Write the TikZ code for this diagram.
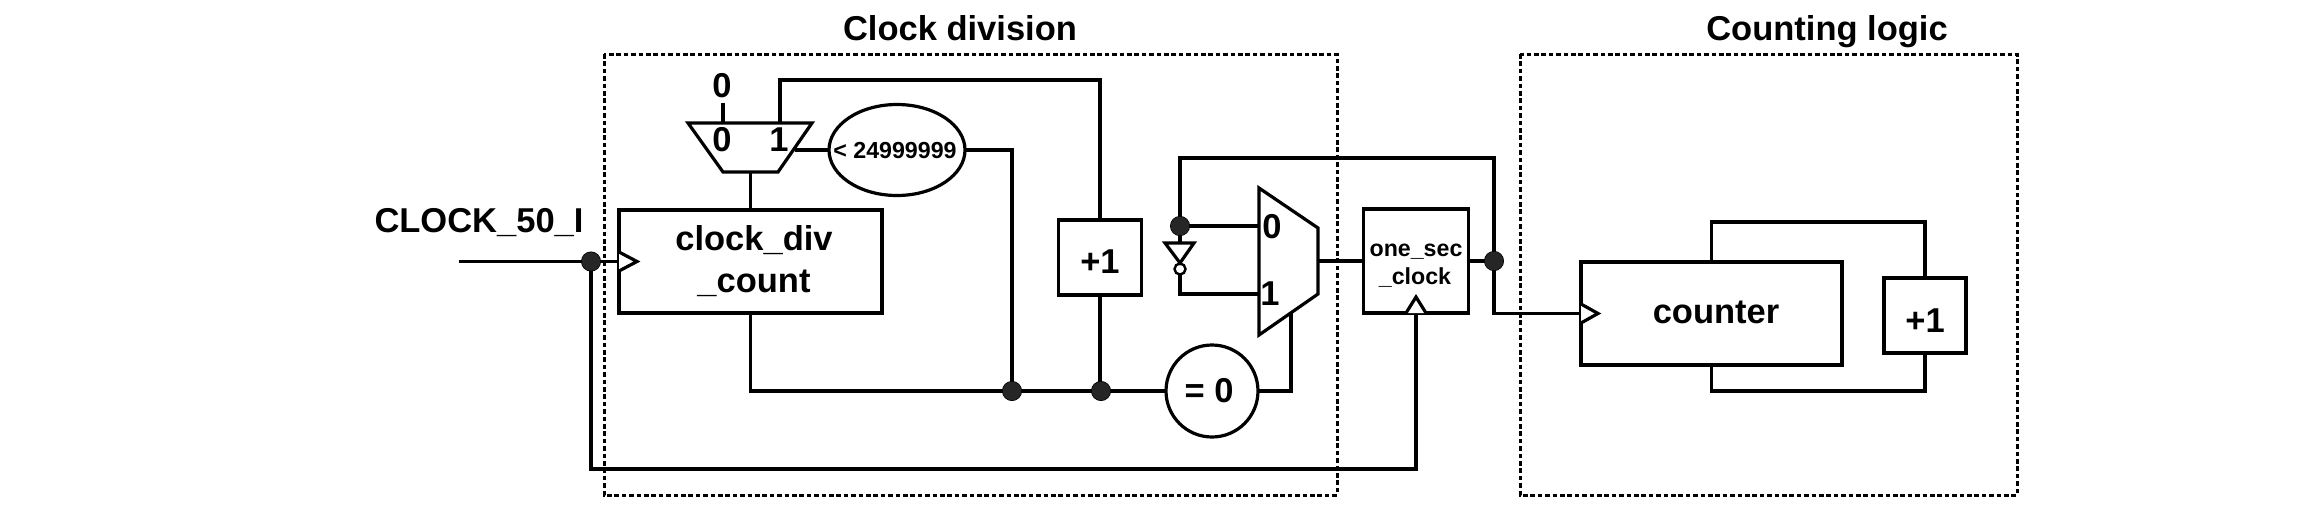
\documentclass[tikz,border=0pt]{standalone}
\usepackage{fontspec}
\setmainfont{Liberation Sans}
\usetikzlibrary{shapes.geometric}
\tikzset{
  wire/.style={line width=1.6pt,line join=miter,line cap=butt},
  boxnode/.style={draw,line width=1.6pt,rectangle,inner sep=0pt,outer sep=0pt},
  dotnode/.style={draw=black,fill=black!85,circle,line width=0.5pt,minimum size=9.5pt,inner sep=0pt,outer sep=0pt},
  shapeline/.style={line width=1.6pt,line join=miter,fill=white},
  groupbox/.style={line width=1.5pt,dash pattern=on 2.3pt off 1.4pt},
  lblbig/.style={font=\bfseries\fontsize{17.25pt}{20pt}\selectfont,anchor=base,inner sep=0pt,outer sep=0pt},
  lblsmall/.style={font=\bfseries\fontsize{11.6pt}{14pt}\selectfont,anchor=base,inner sep=0pt,outer sep=0pt},
}
\begin{document}
\begin{tikzpicture}[x=0.5pt,y=-0.5pt]
\useasboundingbox (0,0) rectangle (2324,520);
\fill[white] (0,0) rectangle (2324,520);

% group boxes
\draw[groupbox] (604,54) rectangle (1337,495);
\draw[groupbox] (1520,54) rectangle (2017,495);

% named points
\coordinate (clkin) at (459,261.5);
\coordinate (zerotop) at (723,103);
\coordinate (topmuxA) at (723,123);
\coordinate (topmuxB) at (780,123);
\coordinate (topmuxO) at (795,150);
\coordinate (topmuxS) at (750.5,172);
\coordinate (mainI0) at (1259,226);
\coordinate (mainI1) at (1259,294);
\coordinate (mainO) at (1318,261);
\coordinate (mainS) at (1291,313);
\coordinate (invtop) at (1180,243);
\coordinate (fbcornerA) at (1494,158);
\coordinate (fbcornerB) at (1180,158);
\coordinate (ctop) at (1100,80);
\coordinate (clkturn) at (1416,469);
\coordinate (loopR) at (1925,222);
\coordinate (loopRb) at (1925,391);

% boxes and round shapes
\node[boxnode,minimum width=131.5pt,minimum height=51.5pt] (clkdiv) at (750.5,261.5) {};
\node[boxnode,minimum width=41.5pt,minimum height=37.5pt] (addA) at (1100,257.5) {};
\node[boxnode,minimum width=52.5pt,minimum height=52pt] (onesec) at (1416,261) {};
\node[boxnode,minimum width=130.5pt,minimum height=51.5pt] (counter) at (1711.5,313.5) {};
\node[boxnode,minimum width=41pt,minimum height=37.5pt] (addB) at (1925,315.5) {};
\node[draw,ellipse,line width=1.6pt,minimum width=68pt,minimum height=45.5pt,inner sep=0pt,outer sep=0pt] (cmp) at (897,150) {};
\node[draw,circle,line width=1.6pt,minimum size=46pt,inner sep=0pt,outer sep=0pt] (eqz) at (1212,391) {};
\node[draw,circle,line width=1.2pt,fill=white,minimum size=5.5pt,inner sep=0pt,outer sep=0pt] (bubble) at (1180,269) {};

% junctions
\node[dotnode] (jclk) at (591,261.5) {};
\node[dotnode] (jcmp) at (1012,391) {};
\node[dotnode] (jadd) at (1101,391) {};
\node[dotnode] (jinv) at (1180,226) {};
\node[dotnode] (jout) at (1494,261) {};

% connectors
\draw[wire] (clkin) -- (clkdiv.west);
\draw[wire] (jclk.center) |- (clkturn) -- (onesec.south);
\draw[wire] (zerotop) -- (topmuxA);
\draw[wire] (topmuxB) |- (ctop) -- (addA.north);
\draw[wire] (topmuxS) -- (clkdiv.north);
\draw[wire] (topmuxO) -- (cmp.west);
\draw[wire] (cmp.east) -| (jcmp.center);
\draw[wire] (addA.south) -- (addA.south |- jadd);
\draw[wire] (clkdiv.south) |- (eqz.west);
\draw[wire] (eqz.east) -| (mainS);
\draw[wire] (mainO) -- (onesec.west);
\draw[wire] (onesec.east) -- (jout.center);
\draw[wire] (jinv.center) -- (mainI0);
\draw[wire] (jinv.center) -- (invtop);
\draw[wire] (bubble.south) |- (mainI1);
\draw[wire] (jinv.center) -- (fbcornerB) -- (fbcornerA) -- (jout.center) |- (counter.west);
\draw[wire] (counter.north) |- (loopR) -- (addB.north);
\draw[wire] (counter.south) |- (loopRb) -- (addB.south);

% junction dots above wires
\foreach \p in {jclk,jcmp,jadd,jinv,jout} {\fill[black!85] (\p) circle (4.6pt);}

% mux bodies, inverter and clock marks
\draw[shapeline] (688,123) -- (812,123) -- (778,172) -- (723,172) -- cycle;
\draw[shapeline] (1259,188) -- (1318,228) -- (1318,294) -- (1259,335) -- cycle;
\draw[shapeline] (1165,243) -- (1194,243) -- (1180,263) -- cycle;
\draw[wire] (1180,263) -- (bubble.north);
\draw[wire,fill=white] (619,252) -- (637,261.5) -- (619,271);
\draw[wire,fill=white] (1581,304) -- (1598,313.5) -- (1581,323);
\draw[wire,fill=white] (1406,313) -- (1416,297) -- (1426,313);

% texts
\node[lblbig] (tclk) at (960,40) {Clock division};
\node[lblbig] (tcnt) at (1827,40) {Counting logic};
\node[lblbig] (tin) at (479,232) {CLOCK\_50\_I};
\node[lblbig] (tz) at (722,97) {0};
\node[lblbig] (tm0) at (722,151) {0};
\node[lblbig] (tm1) at (779,151) {1};
\node[lblsmall] (tcmp) at (895,158) {< 24999999};
\node[lblbig] (tdiva) at (754,250) {clock\_div};
\node[lblbig] (tdivb) at (754,292) {\_count};
\node[lblbig] (taddA) at (1100,273) {+1};
\node[lblbig] (tn0) at (1272,238) {0};
\node[lblbig] (tn1) at (1270,305) {1};
\node[lblbig] (teq) at (1209,402) {= 0};
\node[lblsmall] (tonea) at (1416,256) {one\_sec};
\node[lblsmall] (toneb) at (1415,284) {\_clock};
\node[lblbig] (tcount) at (1716,323) {counter};
\node[lblbig] (taddB) at (1925,332) {+1};
\end{tikzpicture}
\end{document}
